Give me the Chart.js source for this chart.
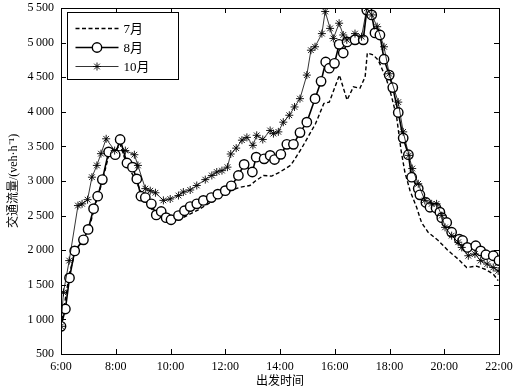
<!DOCTYPE html>
<html>
<head>
<meta charset="utf-8">
<script src="https://cdn.jsdelivr.net/npm/chart.js@4"></script>
<style>
  html, body { margin: 0; padding: 0; background: #fff; }
  #wrap { width: 515px; height: 389px; }
</style>
</head>
<body>
<div id="wrap"><canvas id="flow-chart"></canvas></div>
<script>
// traffic flow by departure time, hours on x, veh/h on y
const xTicks = [6, 8, 10, 12, 14, 16, 18, 20, 22];
const yTicks = [500, 1000, 1500, 2000, 2500, 3000, 3500, 4000, 4500, 5000, 5500];

const julHours = [6.0, 6.3, 6.5, 7.0, 7.3, 7.5, 7.75, 8.0, 8.15, 8.4, 8.75, 9.0, 9.3, 9.6, 10.0, 10.5, 11.0, 11.5, 12.0, 12.3, 12.55, 12.9, 13.1, 13.4, 13.7, 14.0, 14.4, 14.8, 15.3, 15.6, 15.8, 16.17, 16.45, 16.68, 16.92, 17.11, 17.19, 17.41, 17.59, 17.72, 17.9, 18.08, 18.26, 18.42, 18.56, 18.75, 18.99, 19.17, 19.41, 19.78, 20.14, 20.51, 20.82, 21.18, 21.49, 21.79, 21.97];
const julFlow = [900, 1650, 1950, 2280, 2720, 2980, 3380, 3430, 3540, 3240, 3000, 2760, 2600, 2480, 2420, 2480, 2580, 2700, 2820, 2880, 2910, 2935, 3000, 3080, 3070, 3130, 3230, 3480, 3830, 4120, 4140, 4530, 4170, 4360, 4340, 4505, 4850, 4820, 4745, 4625, 4455, 4215, 3925, 3450, 3130, 2860, 2620, 2400, 2260, 2140, 1995, 1870, 1750, 1770, 1725, 1655, 1560];

const augHours = [6.0, 6.16, 6.31, 6.5, 6.82, 6.99, 7.19, 7.34, 7.51, 7.74, 7.98, 8.16, 8.41, 8.61, 8.77, 8.92, 9.08, 9.3, 9.48, 9.66, 9.84, 10.02, 10.29, 10.51, 10.72, 10.96, 11.2, 11.49, 11.73, 12.0, 12.22, 12.48, 12.69, 12.99, 13.13, 13.42, 13.64, 13.8, 14.03, 14.25, 14.49, 14.73, 14.98, 15.28, 15.5, 15.67, 15.8, 15.99, 16.16, 16.31, 16.45, 16.74, 17.04, 17.17, 17.35, 17.47, 17.65, 17.8, 17.99, 18.12, 18.32, 18.5, 18.69, 18.81, 19.05, 19.11, 19.33, 19.48, 19.7, 19.84, 19.91, 20.09, 20.27, 20.55, 20.67, 20.84, 21.15, 21.33, 21.52, 21.79, 22.0];
const augFlow = [900, 1150, 1600, 1990, 2150, 2300, 2600, 2780, 3020, 3420, 3380, 3600, 3260, 3200, 3030, 2780, 2760, 2670, 2510, 2560, 2470, 2440, 2500, 2570, 2630, 2670, 2720, 2760, 2810, 2860, 2930, 3080, 3240, 3130, 3345, 3320, 3370, 3310, 3385, 3530, 3530, 3700, 3850, 4190, 4440, 4720, 4630, 4700, 4975, 4850, 5010, 5040, 5040, 5470, 5400, 5140, 5110, 4760, 4530, 4350, 3990, 3620, 3380, 3055, 2890, 2800, 2690, 2620, 2610, 2550, 2470, 2400, 2260, 2160, 2140, 2040, 2065, 1990, 1935, 1920, 1850];

const octHours = [6.0, 6.09, 6.3, 6.62, 6.77, 6.97, 7.13, 7.31, 7.46, 7.65, 7.96, 8.35, 8.68, 8.81, 9.08, 9.26, 9.45, 9.74, 9.99, 10.29, 10.47, 10.72, 10.96, 11.27, 11.51, 11.69, 11.88, 12.08, 12.2, 12.4, 12.61, 12.79, 13.01, 13.15, 13.37, 13.64, 13.76, 13.94, 14.12, 14.34, 14.53, 14.73, 14.98, 15.13, 15.28, 15.53, 15.65, 15.83, 15.95, 16.16, 16.31, 16.44, 16.74, 16.98, 17.17, 17.35, 17.55, 17.8, 17.99, 18.32, 18.5, 18.71, 18.83, 19.05, 19.29, 19.54, 19.72, 19.91, 20.03, 20.27, 20.51, 20.64, 20.88, 21.12, 21.33, 21.57, 21.79, 21.97];
const octFlow = [900, 1390, 1850, 2645, 2670, 2730, 3055, 3225, 3395, 3610, 3440, 3440, 3380, 3225, 2890, 2860, 2830, 2720, 2740, 2790, 2840, 2870, 2935, 3020, 3080, 3130, 3150, 3200, 3390, 3475, 3590, 3630, 3515, 3660, 3600, 3730, 3685, 3710, 3850, 3950, 4070, 4190, 4530, 4890, 4940, 5130, 5450, 5205, 5060, 5280, 5110, 5040, 5130, 5085, 5495, 5400, 5230, 4940, 4550, 4140, 3710, 3370, 3180, 2960, 2720, 2670, 2670, 2500, 2330, 2210, 2115, 2040, 1920, 1945, 1850, 1800, 1750, 1700];

const toPoints = (xs, ys) => xs.map((x, i) => ({ x: x, y: ys[i] }));
const serif = "'Liberation Serif', 'Times New Roman', 'Noto Sans CJK SC', serif";
const fmtNum = v => (v >= 1000 ? Math.floor(v / 1000) + '\u2009' + String(v % 1000).padStart(3, '0') : String(v));

const frameAndLegend = {
  id: 'frameAndLegend',
  afterDraw(chart) {
    const ctx = chart.ctx;
    const a = chart.chartArea;
    const xs = chart.scales.x, ys = chart.scales.y;
    ctx.save();
    ctx.strokeStyle = '#000';
    ctx.lineWidth = 1;
    ctx.strokeRect(Math.round(a.left) + 0.5, Math.round(a.top) + 0.5, Math.round(a.right - a.left), Math.round(a.bottom - a.top));

    // inward ticks on all four sides
    ctx.beginPath();
    xTicks.forEach(t => {
      const px = Math.round(xs.getPixelForValue(t)) + 0.5;
      ctx.moveTo(px, a.bottom); ctx.lineTo(px, a.bottom - 5);
      ctx.moveTo(px, a.top); ctx.lineTo(px, a.top + 5);
    });
    yTicks.forEach(t => {
      const py = Math.round(ys.getPixelForValue(t)) + 0.5;
      ctx.moveTo(a.left, py); ctx.lineTo(a.left + 5, py);
      ctx.moveTo(a.right, py); ctx.lineTo(a.right - 5, py);
    });
    ctx.stroke();

    // legend box in the upper left corner
    const bx = Math.round(a.left) + 6.5, by = Math.round(a.top) + 4.5;
    ctx.fillStyle = '#fff';
    ctx.fillRect(bx, by, 111, 67);
    ctx.strokeRect(bx, by, 111, 67);
    const rows = [0, 1, 2];
    rows.forEach((di, i) => {
      const ds = chart.data.datasets[di];
      const y = by + 16 + i * 19;
      ctx.save();
      ctx.strokeStyle = '#000';
      ctx.lineWidth = ds.borderWidth;
      ctx.setLineDash(ds.borderDash || []);
      ctx.beginPath();
      ctx.moveTo(bx + 8, y); ctx.lineTo(bx + 51, y);
      ctx.stroke();
      ctx.restore();
      if (ds.pointRadius > 0) {
        ctx.fillStyle = ds.pointBackgroundColor;
        ctx.strokeStyle = '#000';
        ctx.lineWidth = ds.pointBorderWidth;
        Chart.helpers.drawPoint(ctx, {
          pointStyle: ds.pointStyle, radius: ds.pointRadius, rotation: 0, borderWidth: ds.pointBorderWidth
        }, bx + 29.5, y);
      }
      ctx.fillStyle = '#000';
      ctx.font = '13px ' + serif;
      ctx.textBaseline = 'middle';
      ctx.fillText(ds.label, bx + 56, y + 1);
    });
    ctx.restore();
  }
};

new Chart(document.getElementById('flow-chart'), {
  type: 'line',
  data: {
    datasets: [
      {
        label: '7月',
        data: toPoints(julHours, julFlow),
        borderColor: '#000',
        borderWidth: 1.4,
        borderDash: [4, 2.5],
        pointRadius: 0,
        tension: 0,
        order: 2
      },
      {
        label: '8月',
        data: toPoints(augHours, augFlow),
        borderColor: '#000',
        borderWidth: 1.6,
        pointStyle: 'circle',
        pointRadius: 4.7,
        pointBorderWidth: 1.4,
        pointBackgroundColor: '#fff',
        pointBorderColor: '#000',
        tension: 0,
        order: 1
      },
      {
        label: '10月',
        data: toPoints(octHours, octFlow),
        borderColor: '#000',
        borderWidth: 0.8,
        pointStyle: 'star',
        pointRadius: 4,
        pointBorderWidth: 0.9,
        pointBackgroundColor: '#000',
        pointBorderColor: '#000',
        tension: 0,
        order: 0
      }
    ]
  },
  options: {
    responsive: true,
    maintainAspectRatio: false,
    animation: false,
    layout: { padding: { top: 8, right: 16, left: 0, bottom: 0 } },
    plugins: {
      legend: { display: false },
      tooltip: { enabled: false }
    },
    scales: {
      x: {
        type: 'linear',
        min: 6,
        max: 22,
        afterBuildTicks: scale => { scale.ticks = xTicks.map(v => ({ value: v })); },
        afterFit: scale => { scale.height = 35; scale.paddingLeft = 0; scale.paddingRight = 0; },
        ticks: {
          callback: v => v + ':00',
          color: '#000',
          padding: 6,
          maxRotation: 0,
          font: { family: serif, size: 12 }
        },
        grid: { display: false, drawTicks: false },
        border: { display: false },
        title: {
          display: true,
          text: '出发时间',
          color: '#000',
          padding: { top: 0, bottom: 0 },
          font: { family: serif, size: 12 }
        }
      },
      y: {
        min: 500,
        max: 5500,
        afterBuildTicks: scale => { scale.ticks = yTicks.map(v => ({ value: v })); },
        afterFit: scale => { scale.width = 61; scale.paddingTop = 0; scale.paddingBottom = 0; },
        ticks: {
          callback: v => fmtNum(v),
          color: '#000',
          padding: 7,
          font: { family: serif, size: 12 }
        },
        grid: { display: false, drawTicks: false },
        border: { display: false },
        title: {
          display: true,
          text: '交通流量/(veh·h⁻¹)',
          color: '#000',
          padding: { top: 7, bottom: 0 },
          font: { family: serif, size: 12 }
        }
      }
    }
  },
  plugins: [frameAndLegend]
});
</script>
</body>
</html>
